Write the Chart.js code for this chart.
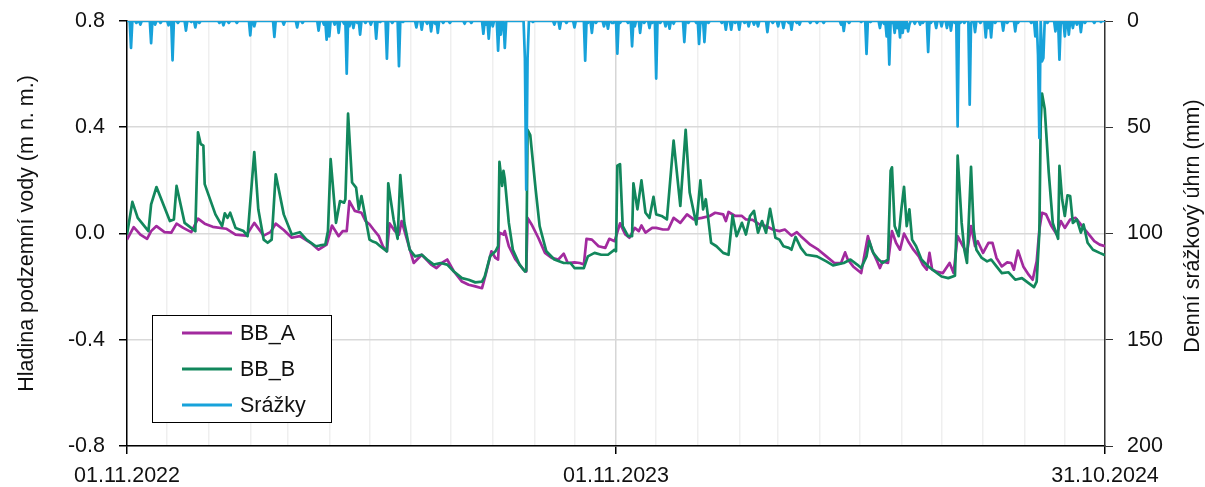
<!DOCTYPE html>
<html>
<head>
<meta charset="utf-8">
<script src="https://cdn.jsdelivr.net/npm/chart.js@4.4.1/dist/chart.umd.min.js"></script>
<style>
  body { margin: 0; background: #fff; }
  #wrap { width: 1205px; height: 487px; }
</style>
</head>
<body>
<div id="wrap"><canvas id="levelChart" width="1205" height="487"></canvas></div>
<script>
// days counted from 01.11.2022
const monthStarts = [0, 30, 61, 92, 120, 151, 181, 212, 242, 273, 304, 334, 365,
    395, 426, 457, 486, 517, 547, 578, 608, 639, 670, 700, 730];
const dateLabels = { 0: '01.11.2022', 365: '01.11.2023', 730: '31.10.2024' };
const levelTicks = [-0.8, -0.4, 0, 0.4, 0.8];
const rainTicks = [0, 50, 100, 150, 200];

const seriesNames = ['BB_A', 'BB_B', 'Srážky'];
const leftTitle = 'Hladina podzemní vody (m n. m.)';
const rightTitle = 'Denní srážkový úhrn (mm)';

const bbADays = [0, 5, 10, 15, 18, 22, 28, 33, 37, 42, 48, 53, 58, 64, 74, 81, 89, 95, 102, 107,
    111, 117, 123, 129, 137, 143, 149, 153, 158, 161, 164, 166, 170, 175, 178, 181, 184, 188, 191, 194,
    196, 200, 203, 205, 209, 214, 220, 227, 231, 235, 239, 244, 250, 255, 260, 265, 268, 272, 275, 277,
    278, 281, 282, 285, 290, 296, 298, 299, 302, 307, 312, 317, 322, 326, 329, 334, 338, 341, 343, 347,
    352, 357, 360, 364, 368, 372, 375, 379, 382, 384, 387, 392, 395, 400, 404, 408, 413, 418, 423, 429,
    435, 439, 445, 447, 449, 454, 459, 462, 467, 472, 477, 482, 487, 491, 496, 500, 503, 510, 516, 522,
    528, 533, 536, 538, 542, 548, 553, 556, 560, 562, 564, 568, 571, 574, 577, 580, 583, 587, 591, 594,
    597, 599, 601, 604, 609, 614, 617, 620, 624, 627, 630, 633, 635, 639, 643, 646, 649, 653, 657, 660,
    662, 665, 669, 673, 676, 679, 681, 683, 686, 690, 694, 697, 700, 704, 708, 711, 715, 719, 722, 726, 730];
const bbA = [-0.023, 0.024, -0.004, -0.02, 0.009, 0.028, 0.005, 0.003, 0.037, 0.021, 0.005, 0.056, 0.037, 0.025, 0.018, -0.004, -0.008, 0.04, -0.008, 0.005,
    0.037, 0.013, -0.016, -0.01, -0.035, -0.061, -0.042, 0.03, -0.01, 0.009, 0.009, 0.122, 0.085, 0.078, 0.047, 0.035, 0.015, -0.01, -0.048, -0.067,
    0.038, 0.009, -0.004, 0.047, -0.023, -0.111, -0.08, -0.117, -0.13, -0.111, -0.098, -0.143, -0.181, -0.193, -0.199, -0.206, -0.149, -0.067, -0.092, -0.098,
    0.003, -0.004, 0.009, -0.048, -0.098, -0.136, -0.143, 0.059, 0.034, -0.016, -0.073, -0.092, -0.098, -0.076, -0.111, -0.109, -0.111, -0.117, -0.02, -0.023,
    -0.048, -0.054, -0.02, -0.029, 0.038, -0.004, -0.016, 0.021, 0.009, 0.03, 0.003, 0.021, 0.021, 0.015, 0.015, 0.059, 0.04, 0.072, 0.053, 0.059,
    0.066, 0.078, 0.072, 0.047, 0.081, 0.066, 0.066, 0.053, 0.051, 0.034, 0.028, 0.015, 0.009, 0.015, -0.008, 0.005, -0.01, -0.042, -0.061, -0.086,
    -0.111, -0.111, -0.071, -0.098, -0.124, -0.149, -0.01, -0.061, -0.105, -0.13, -0.105, -0.111, 0.009, -0.035, -0.061, 0, -0.029, -0.061, -0.086, -0.117,
    -0.136, -0.073, -0.136, -0.143, -0.149, -0.111, -0.149, -0.01, -0.048, -0.073, 0.028, -0.048, -0.029, -0.073, -0.035, -0.035, -0.092, -0.124, -0.109, -0.111,
    -0.136, -0.064, -0.124, -0.155, -0.174, -0.105, 0.015, 0.078, 0.072, 0.028, -0.004, 0.047, 0.021, 0.053, 0.059, 0.04, 0.015, -0.01, -0.029, -0.042, -0.048];

const bbBDays = [0, 4, 8, 16, 18, 22, 32, 35, 37, 43, 51, 53, 55, 57, 58, 66, 71, 73, 75, 77,
    81, 87, 90, 95, 98, 102, 105, 108, 111, 117, 123, 129, 134, 141, 144, 148, 150, 152, 156, 159,
    162, 163, 165, 168, 171, 173, 175, 181, 183, 186, 189, 194, 195, 199, 202, 204, 207, 211, 215, 220,
    224, 229, 234, 239, 244, 250, 255, 260, 265, 267, 271, 275, 277, 278, 280, 281, 282, 285, 288, 293,
    297, 298, 299, 301, 305, 308, 313, 319, 326, 331, 334, 341, 344, 349, 354, 359, 364, 365, 366, 368,
    370, 374, 377, 378, 381, 384, 387, 390, 393, 395, 399, 403, 408, 413, 417, 420, 425, 428, 430, 432,
    433, 436, 440, 445, 449, 452, 455, 459, 462, 465, 468, 471, 474, 477, 480, 484, 487, 490, 494, 496,
    499, 503, 507, 515, 522, 527, 535, 540, 545, 548, 552, 554, 557, 561, 564, 568, 570, 571, 573, 576,
    578, 580, 582, 584, 586, 589, 593, 598, 603, 608, 613, 618, 619, 620, 623, 625, 627, 630, 632, 634,
    638, 642, 645, 649, 653, 658, 663, 668, 673, 677, 679, 681, 682, 683, 685, 688, 691, 695, 696, 698,
    700, 702, 704, 706, 709, 712, 714, 717, 721, 726, 730];
const bbB = [-0.004, 0.119, 0.059, 0.009, 0.11, 0.175, 0.047, 0.053, 0.179, 0.04, 0.009, 0.381, 0.337, 0.331, 0.186, 0.072, 0.028, 0.076, 0.059, 0.078,
    0.021, 0.009, -0.01, 0.306, 0.091, -0.023, -0.035, -0.023, 0.223, 0.072, -0.004, 0.005, -0.023, -0.048, -0.045, -0.042, 0.009, 0.28, 0.04, 0.122,
    0.116, 0.129, 0.451, 0.192, 0.173, 0.091, 0.141, -0.023, -0.029, -0.035, -0.048, -0.067, 0.189, 0.053, -0.02, 0.22, 0.04, -0.061, -0.086, -0.08,
    -0.098, -0.117, -0.111, -0.117, -0.143, -0.168, -0.174, -0.184, -0.181, -0.162, -0.086, -0.067, -0.048, 0.27, 0.179, 0.236, 0.205, 0.04, -0.061, -0.117,
    -0.143, -0.14, 0.39, 0.37, 0.167, 0.028, -0.067, -0.098, -0.111, -0.111, -0.13, -0.13, -0.086, -0.073, -0.08, -0.08, -0.061, -0.067, 0.255, 0.261,
    0.028, -0.01, -0.01, 0.189, 0.091, 0.2, 0.078, 0.059, 0.138, 0.072, 0.066, 0.053, 0.35, 0.104, 0.39, 0.154, 0.034, 0.2, 0.091, 0.129,
    0.091, -0.035, -0.048, -0.073, -0.08, 0.068, -0.01, 0.04, -0.004, 0.066, 0.085, 0.003, 0.047, 0.003, 0.093, -0.016, -0.023, -0.048, -0.054, -0.061,
    -0.013, -0.054, -0.08, -0.086, -0.105, -0.12, -0.111, -0.098, -0.117, -0.13, -0.086, -0.029, -0.073, -0.098, -0.111, -0.098, 0.236, 0.249, 0.028, -0.01,
    0.091, 0.176, 0.028, 0.091, -0.023, -0.048, -0.098, -0.124, -0.143, -0.162, -0.168, -0.159, 0.003, 0.293, 0.04, -0.061, -0.111, 0.251, 0.015, -0.061,
    -0.092, -0.105, -0.098, -0.124, -0.149, -0.146, -0.174, -0.168, -0.187, -0.202, -0.181, 0.003, 0.419, 0.527, 0.47, 0.23, 0.04, -0.02, 0.255, 0.129,
    0.066, 0.144, 0.141, 0.04, 0.053, 0.003, 0.034, -0.035, -0.061, -0.073, -0.082];

// rain days (mm), every other day of the period had 0 mm
const rainDays = [3, 7, 10, 18, 21, 25, 31, 34, 38, 44, 48, 51, 54, 69, 72, 76, 82, 92, 95, 110,
    117, 127, 131, 143, 147, 149, 151, 155, 158, 162, 164, 166, 169, 172, 174, 178, 182, 186, 189, 194,
    198, 203, 206, 216, 220, 224, 227, 230, 232, 236, 241, 252, 257, 266, 268, 270, 273, 277, 279, 282,
    283, 297, 298, 299, 303, 319, 323, 328, 334, 342, 344, 347, 350, 356, 359, 362, 363, 366, 368, 374,
    377, 379, 383, 386, 390, 392, 395, 398, 402, 405, 408, 416, 419, 425, 427, 429, 431, 434, 444, 447,
    451, 454, 457, 461, 464, 468, 471, 478, 482, 486, 490, 494, 496, 500, 502, 510, 515, 520, 533, 535,
    539, 548, 552, 555, 562, 565, 567, 569, 571, 573, 575, 577, 579, 581, 583, 584, 588, 592, 594, 598,
    600, 604, 608, 612, 615, 618, 620, 622, 625, 629, 630, 633, 637, 641, 643, 645, 648, 654, 657, 663,
    665, 675, 678, 680, 681, 683, 684, 687, 693, 696, 698, 700, 703, 706, 709, 712, 715, 722, 727];
const rainMm = [12.7, 0.9, 1.7, 10.4, 1.7, 0.9, 2, 18.5, 0.9, 4.5, 0.5, 3, 0.9, 0.9, 2, 0.9, 0.9, 6.8, 2.5, 7.5,
    1.7, 3, 0.9, 4.5, 1.7, 8.8, 7.2, 1.7, 5.6, 1.3, 24.8, 2.5, 3.3, 0.9, 6.4, 0.9, 1.7, 8.3, 0.5, 17.7,
    0.9, 21.3, 0.5, 3, 4.1, 1.3, 4.9, 1.3, 5.6, 0.9, 0.9, 1.3, 0.9, 6, 1.7, 8.3, 2.5, 14, 6.4, 12.7,
    0.5, 17.4, 79.4, 17.4, 0.5, 1.7, 3.6, 0.9, 3, 18.7, 0.9, 5.6, 0.9, 2.5, 3.6, 0.9, 0.9, 15.4, 0.9, 0.9,
    11.9, 2.5, 5.6, 0.9, 3.3, 0.9, 27.1, 0.9, 2.5, 3.6, 1.3, 9.9, 0.9, 0.9, 10.8, 0.9, 9.9, 0.9, 0.9, 4.1,
    4.1, 0.9, 4.1, 0.9, 2.5, 1.7, 2.5, 5.2, 0.9, 2.5, 3.3, 0.9, 4.1, 0.9, 1.7, 0.9, 0.9, 0.9, 1.7, 4.7,
    0.9, 0.5, 15.5, 0.5, 3.3, 1.3, 7.2, 20.5, 0.9, 5.6, 3.3, 7.7, 5.6, 3.3, 4.9, 1.7, 1.3, 1.7, 0.9, 14.6,
    0.9, 3.3, 2.5, 3.3, 4.5, 0.9, 49.6, 0.9, 0.9, 39.4, 0.9, 5.2, 0.9, 7.7, 3.3, 7.7, 0.9, 4.5, 0.9, 4.9,
    0.9, 0.9, 7.2, 15.8, 55, 19, 17.4, 0.9, 4.9, 18.2, 0.9, 7.2, 6.4, 3.3, 1.7, 5.2, 0.9, 0.9, 0.5];

const rainDaily = new Array(731).fill(0);
rainDays.forEach((d, i) => { rainDaily[d] = rainMm[i]; });

const toPoints = (xs, ys) => xs.map((x, i) => ({ x: x, y: ys[i] }));

const colors = ['#A22A9E', '#12875C', '#17A2DA'];
const fontFamily = "'Liberation Sans', Arial, sans-serif";
const fontSize = 21.5;

// legend drawn inside the plot, Excel style
const boxLegend = {
    id: 'boxLegend',
    afterDraw(chart) {
        const ctx = chart.ctx;
        const x = 152, y = 315, w = 179, h = 107;
        ctx.save();
        ctx.fillStyle = '#fff';
        ctx.fillRect(x, y, w, h);
        ctx.strokeStyle = '#000';
        ctx.lineWidth = 1;
        ctx.strokeRect(x + 0.5, y + 0.5, w, h);
        ctx.font = fontSize + 'px ' + fontFamily;
        ctx.textBaseline = 'middle';
        chart.data.datasets.forEach((ds, i) => {
            const ly = y + 18 + i * 36;
            ctx.strokeStyle = ds.borderColor;
            ctx.lineWidth = 3;
            ctx.beginPath();
            ctx.moveTo(x + 30, ly);
            ctx.lineTo(x + 80, ly);
            ctx.stroke();
            ctx.fillStyle = '#111';
            ctx.fillText(ds.label, x + 88, ly + 1);
        });
        // right axis title, read bottom to top
        ctx.translate(1193, 226);
        ctx.rotate(-Math.PI / 2);
        ctx.textAlign = 'center';
        ctx.fillStyle = '#111';
        ctx.fillText(rightTitle, 0, 0);
        ctx.restore();
    }
};

// fixed axis boxes so the plot area sits where the original one does
const fixWidth = (w) => (scale) => {
    scale.width = w;
    scale.paddingTop = 0;
    scale.paddingBottom = 0;
};

const ctx = document.getElementById('levelChart').getContext('2d');
new Chart(ctx, {
    type: 'line',
    data: {
        datasets: [{
            label: seriesNames[0],
            data: toPoints(bbADays, bbA),
            borderColor: colors[0],
            borderWidth: 2.7,
            order: 3,
            yAxisID: 'y'
        }, {
            label: seriesNames[1],
            data: toPoints(bbBDays, bbB),
            borderColor: colors[1],
            borderWidth: 2.7,
            order: 2,
            yAxisID: 'y'
        }, {
            label: seriesNames[2],
            data: rainDaily.map((v, i) => ({ x: i, y: v })),
            borderColor: colors[2],
            borderWidth: 2.7,
            order: 1,
            yAxisID: 'y2'
        }]
    },
    options: {
        responsive: false,
        animation: false,
        devicePixelRatio: 1,
        layout: { padding: { top: 21, left: 0, right: 0, bottom: 0 } },
        elements: {
            point: { radius: 0 },
            line: { tension: 0, borderJoinStyle: 'round', fill: false }
        },
        plugins: {
            legend: { display: false },
            tooltip: { enabled: false }
        },
        scales: {
            x: {
                type: 'linear',
                min: 0,
                max: 730,
                afterBuildTicks: (scale) => { scale.ticks = monthStarts.map(v => ({ value: v })); },
                afterFit: (scale) => { scale.height = 41; },
                ticks: {
                    autoSkip: false,
                    maxRotation: 0,
                    padding: 9,
                    color: '#111',
                    font: { family: fontFamily, size: fontSize },
                    callback: (v) => dateLabels[v] || ''
                },
                grid: {
                    color: (c) => (c.tick && c.tick.value === 365) ? '#d6d6d6' : '#efefef',
                    lineWidth: 1.5,
                    tickLength: 8,
                    tickColor: (c) => (c.tick && dateLabels[c.tick.value] !== undefined) ? '#000' : 'rgba(0,0,0,0)'
                },
                border: { display: true, color: '#000', width: 1.5 }
            },
            y: {
                position: 'left',
                min: -0.8,
                max: 0.8,
                afterBuildTicks: (scale) => { scale.ticks = levelTicks.map(v => ({ value: v })); },
                afterFit: fixWidth(127),
                ticks: {
                    padding: 14,
                    color: '#111',
                    font: { family: fontFamily, size: fontSize },
                    callback: (v) => v.toFixed(1)
                },
                grid: { color: '#d9d9d9', lineWidth: 1.5, tickLength: 8, tickColor: '#000' },
                border: { display: true, color: '#000', width: 1.5 },
                title: {
                    display: true,
                    text: leftTitle,
                    color: '#111',
                    font: { family: fontFamily, size: fontSize },
                    padding: { top: 14, bottom: 0 }
                }
            },
            y2: {
                position: 'right',
                reverse: true,
                min: 0,
                max: 200,
                afterBuildTicks: (scale) => { scale.ticks = rainTicks.map(v => ({ value: v })); },
                afterFit: fixWidth(100),
                ticks: {
                    padding: 14,
                    color: '#111',
                    font: { family: fontFamily, size: fontSize }
                },
                grid: { drawOnChartArea: false, tickLength: 8, tickColor: '#333' },
                border: { display: true, color: '#333', width: 1.5 }
            }
        }
    },
    plugins: [boxLegend]
});
</script>
</body>
</html>
